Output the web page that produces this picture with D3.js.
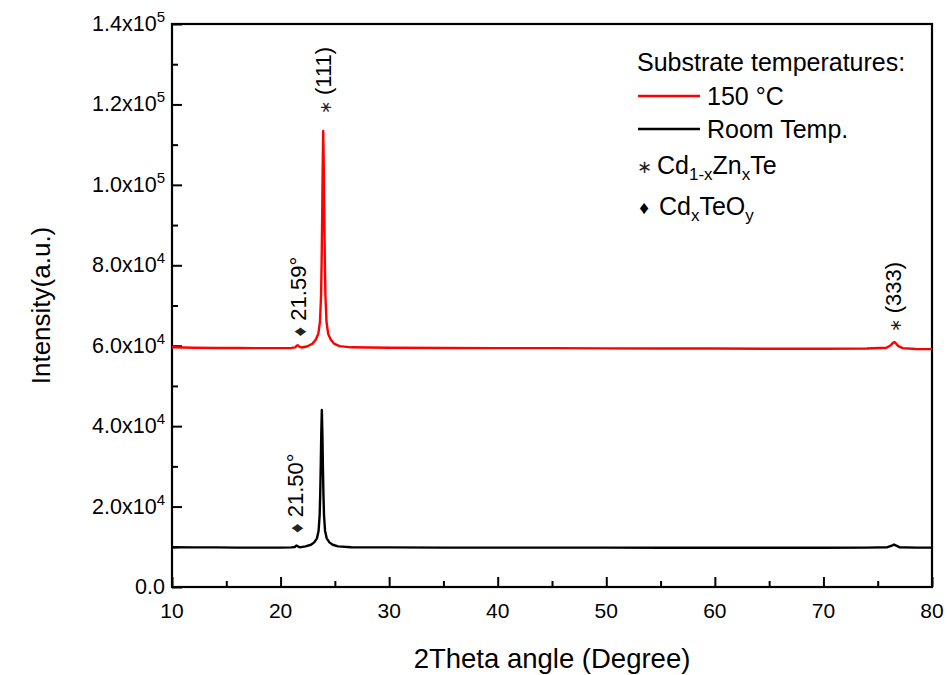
<!DOCTYPE html>
<html>
<head>
<meta charset="utf-8">
<script src="https://cdn.jsdelivr.net/npm/d3@7"></script>
<style>
html,body{margin:0;padding:0;background:#fff;}
svg{display:block;font-family:"Liberation Sans",Arial,sans-serif;}
</style>
</head>
<body>
<svg id="chart" width="947" height="675"></svg>
<script>
// ---- data ----
const redTheta = [10,12,14,16,18,20,21.0,21.35,21.5,21.6,21.7,21.9,22.43,22.93,23.23,23.48,23.63,23.73,23.78,23.83,23.88,23.93,23.98,24.03,24.08,24.13,24.23,24.38,24.63,24.93,25.43,26.5,30,35,40,45,50,55,60,65,70,74,75.8,76.2,76.4,76.55,76.7,76.9,77.3,78.5,80];
const redIntensity = [59600,59500,59450,59450,59400,59400,59450,59600,60000,60100,59800,59550,59800,60500,61500,63000,66000,72500,80500,91500,104500,113400,104500,91500,80500,72500,66000,63000,61500,60500,59900,59600,59500,59450,59400,59400,59350,59300,59300,59250,59250,59300,59500,60100,60700,60900,60500,59900,59400,59200,59150];
const blackTheta = [10,12,14,16,18,20,21.0,21.3,21.45,21.55,21.7,21.9,22.3,22.8,23.1,23.35,23.5,23.6,23.65,23.7,23.75,23.8,23.85,23.9,23.95,24.0,24.1,24.25,24.5,24.8,25.3,26.5,30,35,40,45,50,55,60,65,70,74,75.9,76.3,76.5,76.7,77.0,78.5,80];
const blackIntensity = [9900,9850,9850,9800,9800,9800,9850,9950,10300,10200,9950,9900,10100,10500,11100,12100,13900,17900,22900,29900,38400,44000,38400,29900,22900,17900,13900,12100,11100,10500,10100,9900,9850,9800,9800,9800,9800,9750,9750,9750,9750,9800,9900,10300,10550,10300,9900,9800,9800];
const xTicks = [10,20,30,40,50,60,70,80];
const yTickMantissa = ["0.0","2.0","4.0","6.0","8.0","1.0","1.2","1.4"];
const yTickExp = ["","4","4","4","4","5","5","5"];
const yTickValues = [0,20000,40000,60000,80000,100000,120000,140000];
const annotations = [
  {theta:23.93, value:117600, mark:"\u2217", label:" (111)"},
  {theta:21.6, value:62300, mark:"\u2666", label:" 21.59\u00B0"},
  {theta:21.4, value:13400, mark:"\u2666", label:" 21.50\u00B0"},
  {theta:76.45, value:63300, mark:"\u2217", label:" (333)"}
];
const seriesNames = ["150 \u00B0C","Room Temp."];
const seriesColors = ["#ff0000","#000000"];

// ---- layout ----
const svg = d3.select("#chart");
const L = 172, R = 932, T = 24, B = 587;
const x = d3.scaleLinear().domain([10,80]).range([L,R]);
const y = d3.scaleLinear().domain([0,140000]).range([B,T]);

function htext(parent, px, py, anchor, size){
  return parent.append("text").attr("x",px).attr("y",py)
    .attr("text-anchor",anchor).attr("font-size",size).attr("fill","#000");
}

// axes with inward ticks
const gx = svg.append("g").attr("transform",`translate(0,${B})`);
gx.call(d3.axisBottom(x).tickValues(d3.range(10,81,5)).tickSize(-6).tickFormat(""));
gx.selectAll(".tick line").attr("y2", d => d%10===0 ? -10 : -6).attr("stroke","#000").attr("stroke-width",2);
gx.select(".domain").remove();

const gy = svg.append("g").attr("transform",`translate(${L},0)`);
gy.call(d3.axisLeft(y).tickValues(d3.range(0,140001,10000)).tickSize(-6).tickFormat(""));
gy.selectAll(".tick line").attr("x2", d => d%20000===0 ? 10 : 6).attr("stroke","#000").attr("stroke-width",2);
gy.select(".domain").remove();

// frame
svg.append("rect").attr("x",L).attr("y",T).attr("width",R-L).attr("height",B-T)
  .attr("fill","none").attr("stroke","#000").attr("stroke-width",2.2);

// x tick labels
xTicks.forEach(v=>{
  htext(svg, x(v), B+31, "middle", 21).text(v);
});
// y tick labels
yTickValues.forEach((v,i)=>{
  const t = htext(svg, 165, y(v)+7, "end", 21.5);
  if(yTickExp[i]===""){ t.text(yTickMantissa[i]); }
  else {
    t.append("tspan").text(yTickMantissa[i]+"x10");
    t.append("tspan").attr("font-size",15).attr("dy",-9).text(yTickExp[i]);
  }
});

// axis titles
htext(svg, (L+R)/2, 668, "middle", 27.5).text("2Theta angle (Degree)");
svg.append("text").attr("transform",`translate(50,${(T+B)/2}) rotate(-90)`)
  .attr("text-anchor","middle").attr("font-size",26).text("Intensity(a.u.)");

// lines
const line = d3.line().x(d=>x(d[0])).y(d=>y(d[1]));
const blackData = d3.zip(blackTheta, blackIntensity);
const redData = d3.zip(redTheta, redIntensity);
svg.append("path").datum(blackData).attr("d",line).attr("fill","none")
  .attr("stroke",seriesColors[1]).attr("stroke-width",2.4).attr("stroke-linejoin","round");
svg.append("path").datum(redData).attr("d",line).attr("fill","none")
  .attr("stroke",seriesColors[0]).attr("stroke-width",2.4).attr("stroke-linejoin","round");

// annotations (rotated)
annotations.forEach(a=>{
  const t = svg.append("text").attr("transform",`translate(${x(a.theta)},${y(a.value)}) rotate(-90)`)
    .attr("text-anchor","start").attr("dy","0.35em").attr("font-size",22);
  t.append("tspan").attr("font-size",a.mark==="\u2666"?19:16).attr("fill","#222").text(a.mark);
  t.append("tspan").text(a.label);
});

// legend
htext(svg, 637, 71, "start", 25).text("Substrate temperatures:");
[0,1].forEach(i=>{
  const ly = [96,129][i];
  svg.append("line").attr("x1",638).attr("x2",700).attr("y1",ly).attr("y2",ly)
    .attr("stroke",seriesColors[i]).attr("stroke-width",2.6);
  htext(svg, 707, ly+9, "start", 25).text(seriesNames[i]);
});
htext(svg, 644, 173, "middle", 18).attr("fill","#222").text("\u2217");
const t1 = htext(svg, 657, 174, "start", 25);
t1.append("tspan").text("Cd");
t1.append("tspan").attr("font-size",17).attr("dy",6).text("1-x");
t1.append("tspan").attr("dy",-6).text("Zn");
t1.append("tspan").attr("font-size",17).attr("dy",6).text("x");
t1.append("tspan").attr("dy",-6).text("Te");
htext(svg, 644, 214, "middle", 19).text("\u2666");
const t2 = htext(svg, 659, 215, "start", 25);
t2.append("tspan").text("Cd");
t2.append("tspan").attr("font-size",17).attr("dy",6).text("x");
t2.append("tspan").attr("dy",-6).text("TeO");
t2.append("tspan").attr("font-size",17).attr("dy",6).text("y");
</script>
</body>
</html>
